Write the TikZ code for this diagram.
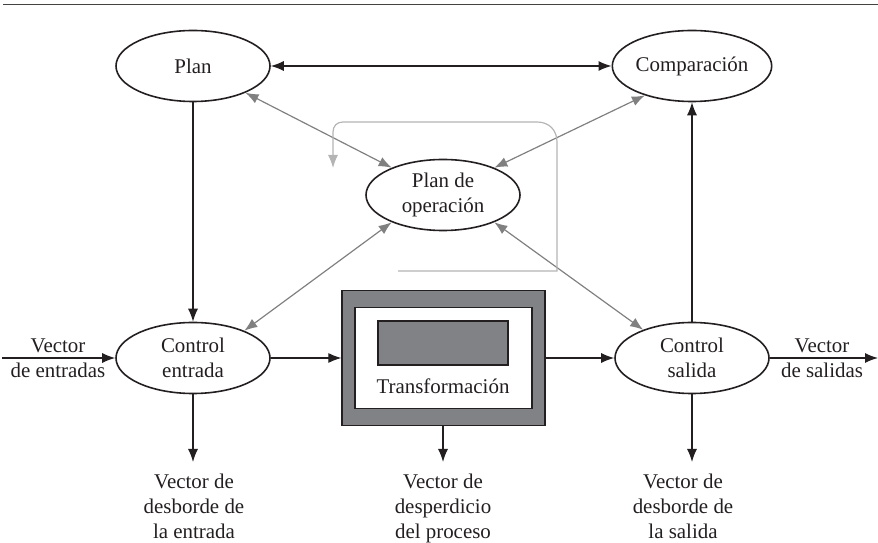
\documentclass[tikz,border=0pt]{standalone}
\usepackage{fontspec}
\setmainfont{Liberation Serif}
\usetikzlibrary{arrows.meta,shapes.geometric}
\definecolor{ink}{HTML}{231F20}
\definecolor{midgray}{HTML}{808080}
\definecolor{lightgray}{HTML}{B4B4B4}
\definecolor{boxgray}{HTML}{808285}
\tikzset{
  every node/.style={font=\fontsize{10.5}{12.5}\selectfont, text=ink},
  oval/.style={ellipse, draw=ink, line width=0.8pt, fill=white, minimum width=77bp, minimum height=35.5bp, inner sep=0pt, align=center},
  blk/.style={draw=ink, line width=0.6pt, -{Latex[length=6.5bp,width=5bp]}},
  blkboth/.style={draw=ink, line width=0.6pt, {Latex[length=6.5bp,width=5bp]}-{Latex[length=6.5bp,width=5bp]}},
  gry/.style={draw=midgray, line width=0.6pt, {Latex[length=6.5bp,width=5bp]}-{Latex[length=6.5bp,width=5bp]}},
  loopline/.style={draw=lightgray, line width=0.6pt, -{Latex[length=6.5bp,width=5bp]}},
  lbl/.style={align=center, inner sep=0pt},
  sublbl/.style={align=center, inner sep=6bp, anchor=north}
}
\begin{document}
\begin{tikzpicture}[x=0.5bp, y=-0.5bp]
\useasboundingbox (0,0) rectangle (878,543);
\draw[draw=ink!85, line width=0.5pt] (3,5) -- (878,5);

% ellipses
\node[oval] (plan) at (193,66) {Plan};
\node[oval] (comp) at (692,66) {Comparación};
\node[oval] (pop) at (443,195) {Plan de\\operación};
\node[oval] (cin) at (193,358) {Control\\entrada};
\node[oval] (cout) at (692,358) {Control\\salida};

% transformation box
\node[rectangle, draw=ink, line width=0.6pt, fill=boxgray, minimum width=101.5bp, minimum height=67.5bp, inner sep=0pt] (trans) at (443.5,358) {};
\node[rectangle, draw=ink, line width=0.6pt, fill=white, minimum width=88.5bp, minimum height=50.5bp, inner sep=0pt] (transin) at (443.5,358) {};
\node[rectangle, draw=ink, line width=0.6pt, fill=boxgray, minimum width=65bp, minimum height=22bp, inner sep=0pt] (transcore) at (443,343) {};
\node[lbl] (translbl) at (443,386) {Transformación};

% input / output
\coordinate (inL) at (2,358);
\coordinate (outR) at (878,358);
\node[lbl] (inlbl) at (58,358) {Vector\\de entradas};
\node[lbl] (outlbl) at (822,358) {Vector\\de salidas};
\draw[blk] (inL) -- (cin.west);
\draw[blk] (cout.east) -- (outR);

% bottom labels
\node[sublbl] (l1) at (194,462) {Vector de\\desborde de\\la entrada};
\node[sublbl] (l2) at (443,462) {Vector de\\desperdicio\\del proceso};
\node[sublbl] (l3) at (683,462) {Vector de\\desborde de\\la salida};
\draw[blk] (cin.south) -- (cin.south |- l1.north);
\draw[blk] (trans.south -| l2.north) -- (l2.north);
\draw[blk] (cout.south) -- (cout.south |- l3.north);

% black connectors
\draw[blkboth] (plan.east) -- (comp.west);
\draw[blk] (plan.south) -- (cin.north);
\draw[blk] (cout.north) -- (comp.south);
\draw[blk] (cin.east) -- (trans.west);
\draw[blk] (trans.east) -- (cout.west);

% gray double arrows
\draw[gry] (plan.-27) -- (pop.152);
\draw[gry] (comp.-148) -- (pop.28);
\draw[gry] (cin.28) -- (pop.-152);
\draw[gry] (cout.150) -- (pop.-28);

% light gray loop
\coordinate (loopA) at (398,271);
\coordinate (loopB) at (333,168);
\draw[loopline] (loopA) -- (557,271) -- (557,142) .. controls (557,130) and (549,122) .. (537,122) -- (343,122) .. controls (337,122) and (333,126) .. (333,132) -- (loopB);
\end{tikzpicture}
\end{document}
